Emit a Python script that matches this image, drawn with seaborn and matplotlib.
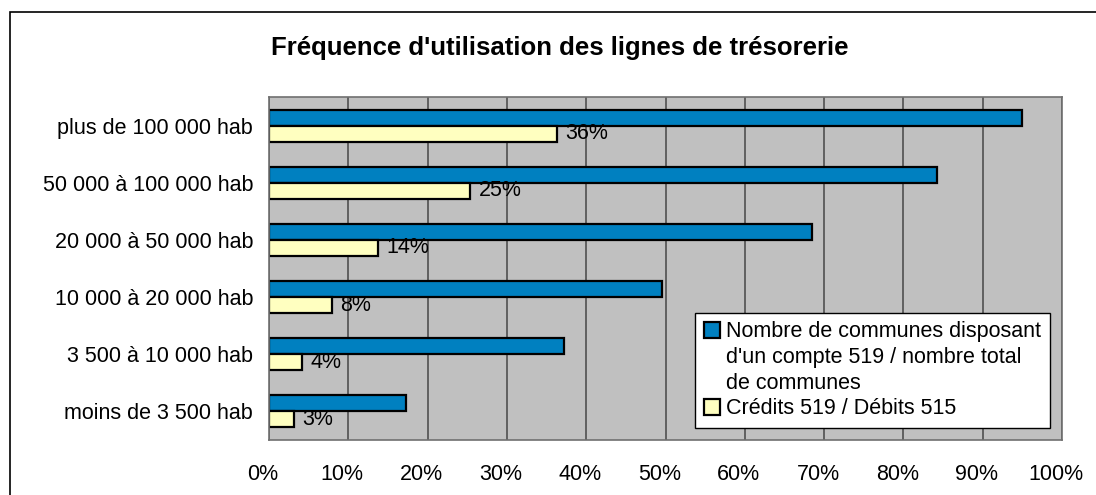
import matplotlib
matplotlib.use("Agg")
import matplotlib.pyplot as plt
import matplotlib.transforms as mtransforms
from matplotlib.patches import Rectangle, Patch
from matplotlib.ticker import MultipleLocator, PercentFormatter
import seaborn as sns
import pandas as pd

# === DATA ===
categories = ["plus de 100 000 hab", "50 000 à 100 000 hab", "20 000 à 50 000 hab",
              "10 000 à 20 000 hab", "3 500 à 10 000 hab", "moins de 3 500 hab"]
serie_names = ["Nombre de communes disposant d'un compte 519 / nombre total de communes",
               "Crédits 519 / Débits 515"]
legend_lines = ["Nombre de communes disposant", "d'un compte 519 / nombre total",
                "de communes", "Crédits 519 / Débits 515"]
comptes_519 = [95.0, 84.2, 68.5, 49.6, 37.2, 17.3]
credits_debits = [36.3, 25.4, 13.7, 7.9, 4.2, 3.1]
labels_credits = ["36%", "25%", "14%", "8%", "4%", "3%"]
colors = ["#0080c0", "#ffffc0"]

df = pd.DataFrame({
    "categorie": categories * 2,
    "serie": [serie_names[0]] * len(categories) + [serie_names[1]] * len(categories),
    "valeur": comptes_519 + credits_debits,
})

# === STYLE ===
sns.set_style("white")
plt.rcParams["font.family"] = ["Liberation Sans", "DejaVu Sans"]
plt.rcParams["text.color"] = "black"
FS = 15.5

fig = plt.figure(figsize=(10.96, 4.95), dpi=100)
ax = fig.add_axes([269 / 1096, 55 / 495, 793 / 1096, 343 / 495])

sns.barplot(data=df, y="categorie", x="valeur", hue="serie", orient="h",
            palette=colors, width=0.56, dodge=True, legend=False,
            edgecolor="black", linewidth=1.6, saturation=1, ax=ax)

ax.set_facecolor("#c0c0c0")
ax.set_xlim(0, 100)
ax.set_ylim(len(categories) - 0.5, -0.5)
ax.xaxis.set_major_locator(MultipleLocator(10))
ax.xaxis.set_major_formatter(PercentFormatter(decimals=0))
ax.grid(axis="x", color="#606060", linewidth=1.4)
ax.grid(axis="y", visible=False)
ax.set_axisbelow(True)
ax.set_xlabel("")
ax.set_ylabel("")

for side in ["left", "bottom", "top", "right"]:
    ax.spines[side].set_color("#707070")
    ax.spines[side].set_linewidth(1.2)

ax.tick_params(axis="x", length=6, color="#606060", labelsize=FS, pad=11,
               labelcolor="black")
ax.tick_params(axis="y", which="major", length=0, labelsize=FS, pad=11.5,
               labelcolor="black")
ax.set_yticks([i + 0.5 for i in range(-1, len(categories))], minor=True)
ax.tick_params(axis="y", which="minor", length=6, color="#606060")

# x tick labels sit a little left of their ticks in the original
shift = mtransforms.ScaledTranslation(-6 / 100, 0, fig.dpi_scale_trans)
for lab in ax.get_xticklabels():
    lab.set_transform(lab.get_transform() + shift)

ax.bar_label(ax.containers[1], labels=labels_credits, padding=6, fontsize=FS,
             color="black")

# legend: first series label spread over three lines, handle on the first one
handles = [Patch(facecolor=colors[0], edgecolor="black", linewidth=1.6),
           Patch(alpha=0), Patch(alpha=0),
           Patch(facecolor=colors[1], edgecolor="black", linewidth=1.6)]
leg = ax.legend(handles, legend_lines, loc="lower right", bbox_to_anchor=(0.985, 0.035),
                borderaxespad=0, fontsize=FS, frameon=True, fancybox=False,
                edgecolor="black", framealpha=1, handlelength=0.75, handleheight=0.75,
                handletextpad=0.3, labelspacing=0.22, borderpad=0.4)
leg.get_frame().set_linewidth(1.0)

fig.suptitle("Fréquence d'utilisation des lignes de trésorerie", x=0.511, y=0.928,
             fontsize=18.5, fontweight="bold", color="black")

fig.add_artist(Rectangle((10 / 1096, -0.1), 1.2, 0.1 + 483 / 495,
                         transform=fig.transFigure, fill=False,
                         edgecolor="black", linewidth=1.2))

fig.savefig("out.png", dpi=100)
